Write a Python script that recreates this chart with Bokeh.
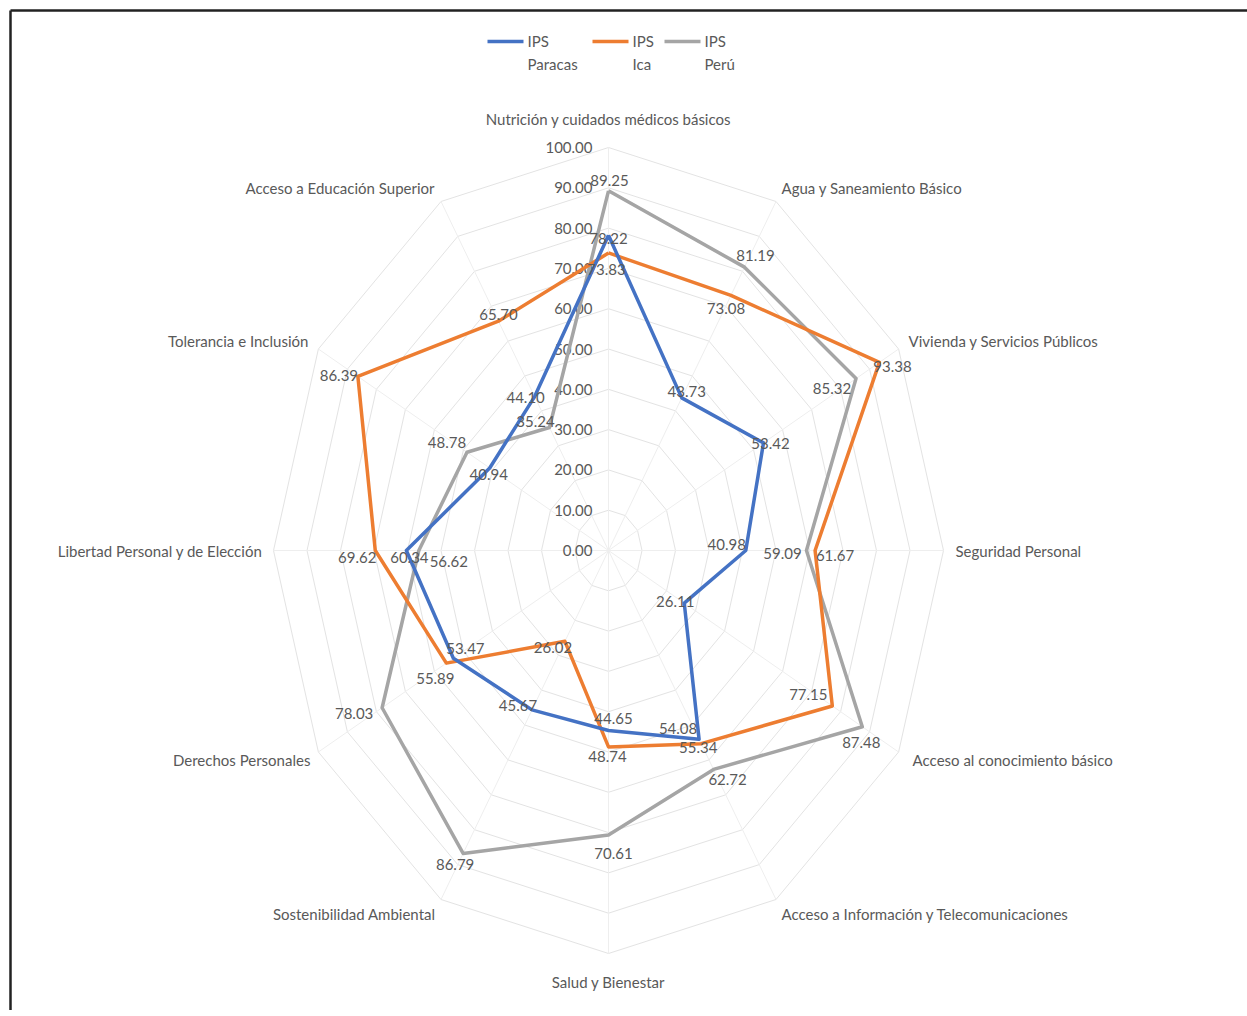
import numpy as np
from bokeh.plotting import figure
from bokeh.models import Range1d
from bokeh.core.properties import value
from bokeh.embed import file_html
from bokeh.resources import INLINE

# ---------------- data ----------------
categories = [
    "Nutrición y cuidados médicos básicos",
    "Agua y Saneamiento Básico",
    "Vivienda y Servicios Públicos",
    "Seguridad Personal",
    "Acceso al conocimiento básico",
    "Acceso a Información y Telecomunicaciones",
    "Salud y Bienestar",
    "Sostenibilidad Ambiental",
    "Derechos Personales",
    "Libertad Personal y de Elección",
    "Tolerancia e Inclusión",
    "Acceso a Educación Superior",
]
ips_paracas = [78.22, 43.73, 53.42, 40.98, 26.11, 54.08, 44.65, 45.67, 53.47, 60.34, 40.94, 44.10]
ips_ica = [73.83, 73.08, 93.38, 61.67, 77.15, 55.34, 48.74, 26.02, 55.89, 69.62, 86.39, 65.70]
ips_peru = [89.25, 81.19, 85.32, 59.09, 87.48, 62.72, 70.61, 86.79, 78.03, 56.62, 48.78, 35.24]
series_labels = [("IPS", "Paracas"), ("IPS", "Ica"), ("IPS", "Perú")]
radial_ticks = [0, 10, 20, 30, 40, 50, 60, 70, 80, 90, 100]

# ---------------- styling / layout ----------------
W, H = 1247, 1010
CX, CY = 608.0, 550.0          # chart centre (page pixels)
SX, SY = 3.35, 4.03            # pixels per unit, horizontal / vertical
FONT = "Lato"
FS = "15px"
TXT = "#595959"
colors = ["#4472C4", "#ED7D31", "#A5A5A5"]

# data-label pixel offsets (dx, dy) per series, per category
lab_off = [
    [(0, 3), (5, -6), (7, 1), (-19, -6), (-9, -2), (-21, -11), (5, -12), (-14, -4), (12, -10), (3, 7), (-1, 6), (-9, 1)],
    [(-2, 17), (-5, 13), (13, 4), (20, 5), (-24, -11), (-3, 4), (-1, 10), (-12, 6), (-11, 15), (-18, 7), (-19, -1), (0, -7)],
    [(1, -10), (11, -12), (-24, 10), (-24, 3), (-1, 16), (14, 10), (5, 18), (-8, 11), (-28, 6), (30, 11), (-20, -10), (-14, -6)],
]
cat_off = [(0, -29), (5.5, -13), (10, -8.5), (12, 0), (14, 7.5), (5.5, 14), (0, 28),
           (-5.5, 14), (-8, 7.5), (-11, 0), (-10, -8.5), (-6.5, -13)]

n = len(categories)
theta = np.arange(n) * 2 * np.pi / n


def to_xy(vals):
    v = np.asarray(vals, dtype=float)
    return CX + v * SX * np.sin(theta), CY - v * SY * np.cos(theta)


p = figure(width=W, height=H, output_backend="svg", toolbar_location=None,
           x_range=Range1d(0, W), y_range=Range1d(H, 0),
           min_border=0, outline_line_color=None)
p.axis.visible = False
p.grid.visible = False
p.background_fill_color = "white"

# frame (top and left edges visible in the reference)
p.segment(x0=[10, 10], y0=[10, 10], x1=[W, 10], y1=[10, H], line_color="#222222", line_width=2.5)

# grid rings
for t in radial_ticks[1:]:
    gx, gy = to_xy([t] * n)
    p.line(list(gx) + [gx[0]], list(gy) + [gy[0]], line_color="#e3e3e3", line_width=1)
# spokes
ox, oy = to_xy([100] * n)
p.segment(x0=[CX] * n, y0=[CY] * n, x1=ox, y1=oy, line_color="#eeeeee", line_width=1)

# radial axis labels
rt_x = [CX - 16] * len(radial_ticks)
rt_y = [CY - t * SY for t in radial_ticks]
p.text(x=rt_x, y=rt_y, text=[f"{t:.2f}" for t in radial_ticks], text_align="right",
       text_baseline="middle", text_font=value(FONT), text_font_size=FS, text_color=TXT)

# series
series = [ips_paracas, ips_ica, ips_peru]
for idx in [2, 1, 0]:
    sx, sy = to_xy(series[idx])
    p.line(list(sx) + [sx[0]], list(sy) + [sy[0]], line_color=colors[idx], line_width=3.5,
           line_join="round")

for idx in [2, 1, 0]:
    sx, sy = to_xy(series[idx])
    lx = [sx[i] + lab_off[idx][i][0] for i in range(n)]
    ly = [sy[i] + lab_off[idx][i][1] for i in range(n)]
    p.text(x=lx, y=ly, text=[f"{v:.2f}" for v in series[idx]], text_align="center",
           text_baseline="middle", text_font=value(FONT), text_font_size=FS, text_color=TXT)

# category labels
for i, c in enumerate(categories):
    s = np.sin(theta[i])
    align = "center" if abs(s) < 1e-6 else ("left" if s > 0 else "right")
    p.text(x=[ox[i] + cat_off[i][0]], y=[oy[i] + cat_off[i][1]], text=[c], text_align=align,
           text_baseline="middle", text_font=value(FONT), text_font_size=FS, text_color=TXT)

# legend (manual, two-line labels)
leg_x = [487, 592, 664]
for k, (a, b) in enumerate(series_labels):
    p.line([leg_x[k], leg_x[k] + 36], [41, 41], line_color=colors[k], line_width=3.5)
    p.text(x=[leg_x[k] + 40], y=[40], text=[a], text_align="left", text_baseline="middle",
           text_font=value(FONT), text_font_size=FS, text_color=TXT)
    p.text(x=[leg_x[k] + 40], y=[63], text=[b], text_align="left", text_baseline="middle",
           text_font=value(FONT), text_font_size=FS, text_color=TXT)

open("out.html", "w").write(file_html(p, INLINE))
